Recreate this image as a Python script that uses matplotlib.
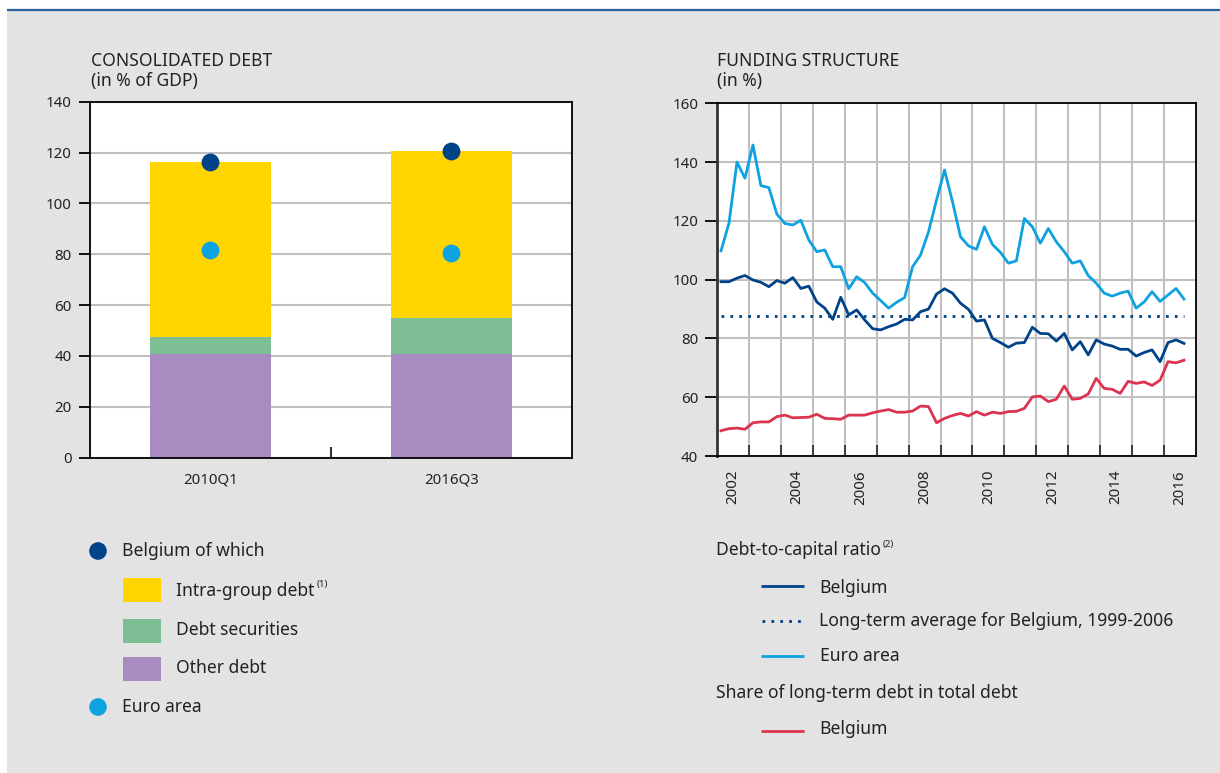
import matplotlib
matplotlib.use("Agg")
import matplotlib.pyplot as plt
from matplotlib.patches import Rectangle, Circle
import numpy as np

plt.rcParams['font.family'] = ['Noto Sans', 'DejaVu Sans']

# ---------------- Data ----------------
# Left chart: consolidated debt (% of GDP)
periods = ["2010Q1", "2016Q3"]
other_debt = [40.9, 40.9]
debt_securities = [6.7, 14.2]
intra_group_debt = [68.7, 65.5]
belgium_total = [116.4, 120.5]
euro_area_total = [81.7, 80.4]

# Right chart: funding structure (%), quarterly 2002Q1 - 2016Q3
first_year = 2002
n_quarters = 59
euro_area_ratio = [109.8, 119.2, 140.0, 134.5, 145.8, 132.0, 131.3, 122.3, 119.1, 118.6,
                   120.2, 113.5, 109.5, 110.1, 104.4, 104.4, 96.9, 101.0, 99.0, 95.4,
                   92.9, 90.3, 92.3, 93.9, 104.4, 108.4, 116.3, 127.1, 137.3, 126.5,
                   114.6, 111.5, 110.3, 118.0, 112.0, 109.3, 105.6, 106.4, 120.8, 118.0,
                   112.4, 117.4, 112.9, 109.5, 105.6, 106.4, 101.4, 98.8, 95.4, 94.4,
                   95.4, 96.1, 90.3, 92.4, 95.9, 92.6, 94.8, 97.0, 93.4]
belgium_ratio = [99.3, 99.3, 100.5, 101.4, 99.9, 99.1, 97.6, 99.7, 98.8, 100.7,
                 97.0, 97.8, 92.4, 90.3, 86.5, 94.0, 88.0, 89.7, 86.3, 83.3,
                 82.9, 84.0, 84.9, 86.5, 86.3, 89.1, 90.0, 95.1, 96.9, 95.4,
                 92.0, 89.9, 85.9, 86.3, 80.0, 78.6, 77.0, 78.4, 78.6, 83.8,
                 81.7, 81.6, 79.1, 81.7, 76.1, 78.9, 74.4, 79.5, 78.1, 77.4,
                 76.3, 76.3, 74.0, 75.2, 76.1, 72.1, 78.6, 79.5, 78.3]
belgium_lt_share = [48.6, 49.3, 49.5, 49.1, 51.3, 51.6, 51.6, 53.4, 53.9, 53.0,
                    53.1, 53.2, 54.2, 52.8, 52.7, 52.5, 53.9, 53.9, 53.9, 54.7,
                    55.3, 55.8, 54.9, 54.9, 55.3, 57.0, 56.8, 51.3, 52.8, 53.8,
                    54.5, 53.6, 55.1, 53.9, 54.9, 54.5, 55.1, 55.2, 56.2, 60.1,
                    60.4, 58.5, 59.3, 63.8, 59.3, 59.6, 61.1, 66.4, 63.0, 62.7,
                    61.3, 65.4, 64.7, 65.2, 64.0, 65.8, 72.1, 71.7, 72.6]
belgium_lt_average = 87.5
year_labels = ["2002", "2004", "2006", "2008", "2010", "2012", "2014", "2016"]

# ---------------- Style ----------------
W, H = 1220, 773
BG = "#e3e3e3"
DARK = "#004389"
LIGHT = "#0ea2e0"
RED = "#dc3450"
YELLOW = "#fed500"
GREEN = "#7dbe95"
PURPLE = "#a78bc1"
GRID = "#c0c0c0"
TXT = "#222222"
TFS = 12.6   # titles
LFS = 12.6   # legend
KFS = 10.8   # tick labels

fig = plt.figure(figsize=(W / 100, H / 100), dpi=100)
fig.patch.set_facecolor("white")

# overlay in pixel coordinates (for background & legends)
lax = fig.add_axes([0, 0, 1, 1])
lax.set_xlim(0, W)
lax.set_ylim(H, 0)
lax.axis("off")
lax.set_zorder(-1)
lax.add_patch(Rectangle((7, 11), W - 7, H - 11, facecolor=BG, edgecolor="none"))
lax.plot([7, W], [10, 10], color="#2d62a0", lw=1.6, solid_capstyle="butt")

# ---------------- Left chart ----------------
ax1 = fig.add_axes([90 / W, 1 - 457.7 / H, 482 / W, 356 / H])
ax1.set_facecolor("white")
xpos = np.arange(len(periods))
bw = 0.5
ax1.bar(xpos, other_debt, width=bw, color=PURPLE, zorder=2)
bot2 = np.array(other_debt)
ax1.bar(xpos, debt_securities, width=bw, bottom=bot2, color=GREEN, zorder=2)
bot3 = bot2 + np.array(debt_securities)
ax1.bar(xpos, intra_group_debt, width=bw, bottom=bot3, color=YELLOW, zorder=2)
ax1.scatter(xpos, belgium_total, s=165, color=DARK, zorder=4, linewidths=0)
ax1.scatter(xpos, euro_area_total, s=165, color=LIGHT, zorder=4, linewidths=0)
ax1.set_xlim(-0.5, 1.5)
ax1.set_ylim(0, 140)
ax1.set_yticks(range(0, 141, 20))
ax1.yaxis.grid(True, color=GRID, lw=1.5)
ax1.set_axisbelow(True)
ax1.set_xticks(xpos)
ax1.set_xticklabels(periods)
ax1.set_xticks([0.5], minor=True)
ax1.tick_params(axis="x", which="major", length=0, pad=11, labelsize=KFS, labelcolor=TXT)
ax1.tick_params(axis="x", which="minor", direction="in", length=8, width=1.5, color="#333333")
ax1.tick_params(axis="y", direction="out", length=8, width=1.3, pad=5, labelsize=KFS, labelcolor=TXT)
for s in ax1.spines.values():
    s.set_color("black")
    s.set_linewidth(1.3)

fig.text(91 / W, 1 - 66 / H, "CONSOLIDATED DEBT", fontsize=TFS, color=TXT, va="baseline")
fig.text(91 / W, 1 - 86 / H, "(in % of GDP)", fontsize=TFS, color=TXT, va="baseline")

# ---------------- Right chart ----------------
ax2 = fig.add_axes([717 / W, 1 - 456 / H, 479 / W, 352.7 / H])
ax2.set_facecolor("white")
qx = first_year + (np.arange(n_quarters) + 0.5) / 4
ax2.plot(qx, euro_area_ratio, color=LIGHT, lw=2, zorder=3)
ax2.plot(qx, belgium_ratio, color=DARK, lw=2, zorder=3)
ax2.plot(qx, belgium_lt_share, color=RED, lw=2, zorder=3)
ax2.plot([qx[0], qx[-1]], [belgium_lt_average] * 2, color=DARK, lw=2,
         linestyle=(0, (1, 2.2)), zorder=3)
ax2.set_xlim(first_year, first_year + 15)
ax2.set_ylim(40, 160)
ax2.set_yticks(range(40, 161, 20))
ax2.set_xticks(range(first_year + 1, first_year + 15))
ax2.set_xticklabels([])
ax2.set_xticks([int(y) + 0.5 for y in year_labels], minor=True)
ax2.set_xticklabels(year_labels, minor=True, rotation=90)
ax2.grid(True, which="major", color=GRID, lw=1.5)
ax2.set_axisbelow(True)
ax2.tick_params(axis="x", which="major", direction="in", length=8, width=1.3, color="#333333")
ax2.tick_params(axis="x", which="minor", length=0, pad=10, labelsize=KFS, labelcolor=TXT)
ax2.tick_params(axis="y", direction="out", length=8.5, width=1.3, pad=5, labelsize=KFS, labelcolor=TXT)
for s in ax2.spines.values():
    s.set_color("black")
    s.set_linewidth(1.3)
ax2.spines["left"].set_color("#333333")
ax2.spines["left"].set_linewidth(2)

fig.text(717 / W, 1 - 66 / H, "FUNDING STRUCTURE", fontsize=TFS, color=TXT, va="baseline")
fig.text(717 / W, 1 - 86 / H, "(in %)", fontsize=TFS, color=TXT, va="baseline")

# ---------------- Legends ----------------
renderer = fig.canvas.get_renderer()


def label(x, y, s, sup=None):
    t = lax.text(x, y, s, fontsize=LFS, color=TXT, va="center", ha="left")
    if sup:
        bb = t.get_window_extent(renderer)
        lax.text(bb.x1 + 2, y - 6, sup, fontsize=7, color=TXT, va="center", ha="left")
    return t


# left legend
lax.add_patch(Circle((98, 551), 8.8, color=DARK, lw=0))
label(122, 551, "Belgium of which")
lax.add_patch(Rectangle((123, 578), 38, 24, color=YELLOW, lw=0))
label(176, 591, "Intra-group debt", "(1)")
lax.add_patch(Rectangle((123, 619), 38, 24, color=GREEN, lw=0))
label(176, 630, "Debt securities")
lax.add_patch(Rectangle((123, 657), 38, 24, color=PURPLE, lw=0))
label(176, 668, "Other debt")
lax.add_patch(Circle((98, 707), 8.8, color=LIGHT, lw=0))
label(122, 707, "Euro area")

# right legend
label(716, 550, "Debt-to-capital ratio", "(2)")
lax.plot([761, 804], [585.7, 585.7], color=DARK, lw=2, solid_capstyle="butt")
label(819, 588, "Belgium")
lax.plot([762, 804], [620.7, 620.7], color=DARK, lw=2, linestyle=(0, (1, 2.2)))
label(819, 621, "Long-term average for Belgium, 1999-2006")
lax.plot([761, 804], [656, 656], color=LIGHT, lw=2, solid_capstyle="butt")
label(820, 656, "Euro area")
label(716, 693, "Share of long-term debt in total debt")
lax.plot([761, 804], [730.7, 730.7], color=RED, lw=2, solid_capstyle="butt")
label(819, 729, "Belgium")

fig.savefig("out.png", dpi=100, facecolor=fig.get_facecolor())
